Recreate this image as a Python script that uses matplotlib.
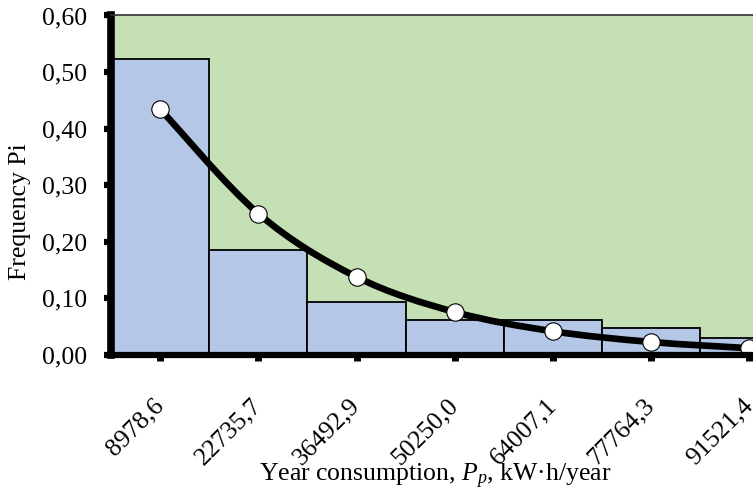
import matplotlib
matplotlib.use("Agg")
import matplotlib.pyplot as plt
from matplotlib.path import Path
from matplotlib.patches import PathPatch
from matplotlib.ticker import FuncFormatter
import numpy as np

plt.rcParams['font.family'] = ['Liberation Serif', 'DejaVu Serif']
plt.rcParams['mathtext.fontset'] = 'custom'
plt.rcParams['mathtext.rm'] = 'Liberation Serif'
plt.rcParams['mathtext.it'] = 'Liberation Serif:italic'

# ---- data ----
categories = ["8978,6", "22735,7", "36492,9", "50250,0", "64007,1", "77764,3", "91521,4"]
bar_freq = [0.523, 0.185, 0.094, 0.062, 0.062, 0.048, 0.030]
curve_freq = [0.435, 0.250, 0.138, 0.076, 0.042, 0.023, 0.012]
y_ticks = [0.0, 0.1, 0.2, 0.3, 0.4, 0.5, 0.6]

FS = 18.5
fig = plt.figure(figsize=(7.53, 4.90), dpi=100)
ax = fig.add_axes([111/753, (490-355)/490, (798.4-111)/753, (355-15.5)/490])
ax.set_facecolor('#C5E0B4')

x = np.arange(len(categories))
ax.bar(x, bar_freq, width=1.0, color='#B4C7E7', edgecolor='black', linewidth=1.3, zorder=2)

# smooth (Catmull-Rom style) curve through the points, like Excel smoothed line
pts = np.column_stack([x, curve_freq]).astype(float)
verts = [tuple(pts[0])]
codes = [Path.MOVETO]
n = len(pts)
for i in range(n - 1):
    p0 = pts[i - 1] if i > 0 else pts[i]
    p1 = pts[i]
    p2 = pts[i + 1]
    p3 = pts[i + 2] if i + 2 < n else pts[i + 1]
    c1 = p1 + (p2 - p0) / 6.0
    c2 = p2 - (p3 - p1) / 6.0
    verts += [tuple(c1), tuple(c2), tuple(p2)]
    codes += [Path.CURVE4, Path.CURVE4, Path.CURVE4]
ax.add_patch(PathPatch(Path(verts, codes), fill=False, edgecolor='black',
                       linewidth=4.8, capstyle='round', joinstyle='round', zorder=3))
ax.plot(x, curve_freq, linestyle='none', marker='o', markersize=12.5,
        markerfacecolor='white', markeredgecolor='black', markeredgewidth=0.8, zorder=4)

ax.set_xlim(-0.5, len(categories) - 0.5)
ax.set_ylim(0, 0.6)
ax.set_yticks(y_ticks)
ax.yaxis.set_major_formatter(FuncFormatter(lambda v, p: f"{v:.2f}".replace('.', ',')))
ax.set_xticks(x)
ax.set_xticklabels(categories)

for lab in ax.get_xticklabels():
    lab.set_rotation(45)
    lab.set_rotation_mode('anchor')
    lab.set_ha('right')
    lab.set_va('center')
    lab.set_fontsize(FS)
for lab in ax.get_yticklabels():
    lab.set_fontsize(FS)

ax.tick_params(axis='y', direction='out', length=5, width=4.5, pad=12, color='black')
ax.tick_params(axis='x', direction='out', length=4, width=5, pad=30, color='black')

ax.spines['left'].set_linewidth(5.5)
ax.spines['bottom'].set_linewidth(4.5)
ax.spines['top'].set_linewidth(1.2)
ax.spines['top'].set_color('#303030')
ax.spines['right'].set_visible(False)
for s in ax.spines.values():
    s.set_zorder(5)
    s.set_capstyle('projecting')

fig.text(20.5/753, 1 - 212/490, "Frequency Pi", rotation=90, ha='center', va='center', fontsize=FS)
fig.text(435/753, 1 - 481/490, r"Year consumption, $P_p$, kW·h/year", ha='center', va='baseline', fontsize=FS)

fig.savefig("out.png", dpi=100)
